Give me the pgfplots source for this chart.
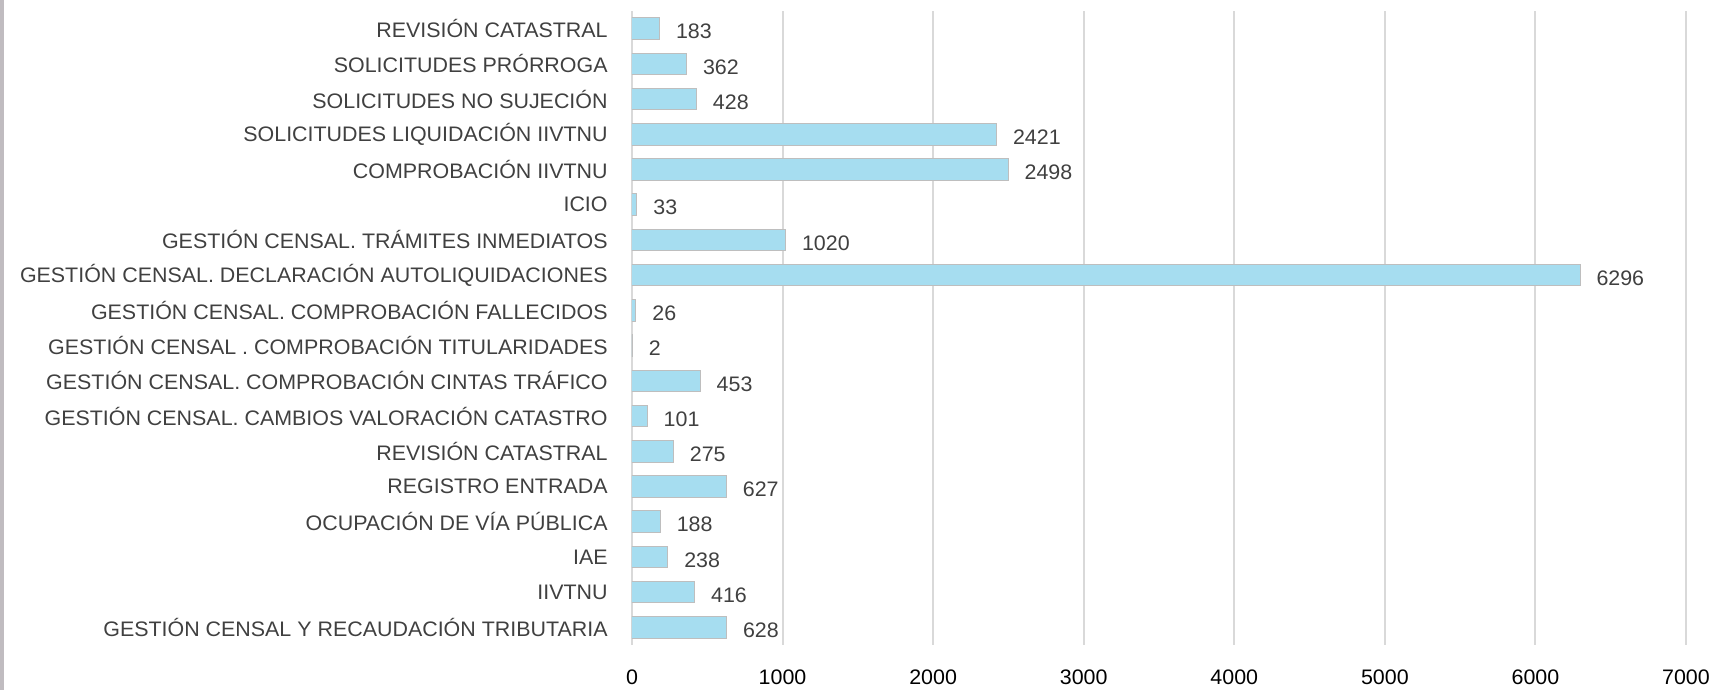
\documentclass[border=0pt]{standalone}
\usepackage{pgfplots}
\pgfplotsset{compat=1.18}
\usepackage{fontspec}
\setmainfont[FakeStretch=1.02]{Liberation Sans}
\definecolor{barfill}{RGB}{166,221,240}
\definecolor{barline}{RGB}{190,190,190}
\definecolor{gridc}{RGB}{217,217,217}
\definecolor{lab}{RGB}{64,64,64}
\definecolor{tick}{RGB}{89,89,89}
\definecolor{edge}{RGB}{192,188,192}
\begin{document}
\begin{tikzpicture}
\fontsize{10.5}{12.6}\selectfont
\begin{axis}[
  at={(316pt,22.5pt)}, anchor=south west,
  width=527pt, height=317pt, scale only axis,
  xbar, bar width=10.8pt,
  xmin=0, xmax=7000, ymin=-0.5, ymax=17.5,
  axis line style={draw=none},
  xtick={0,1000,...,7000},
  xmajorgrids, grid style={gridc, line width=1pt},
  major tick length=0pt,
  ytick={0,...,17},
  yticklabels={
    {GESTIÓN CENSAL Y RECAUDACIÓN TRIBUTARIA},
    {IIVTNU},
    {IAE},
    {OCUPACIÓN DE VÍA PÚBLICA},
    {REGISTRO ENTRADA},
    {REVISIÓN CATASTRAL},
    {GESTIÓN CENSAL. CAMBIOS VALORACIÓN CATASTRO},
    {GESTIÓN CENSAL. COMPROBACIÓN CINTAS TRÁFICO},
    {GESTIÓN CENSAL . COMPROBACIÓN TITULARIDADES},
    {GESTIÓN CENSAL. COMPROBACIÓN FALLECIDOS},
    {GESTIÓN CENSAL. DECLARACIÓN AUTOLIQUIDACIONES},
    {GESTIÓN CENSAL. TRÁMITES INMEDIATOS},
    {ICIO},
    {COMPROBACIÓN IIVTNU},
    {SOLICITUDES LIQUIDACIÓN IIVTNU},
    {SOLICITUDES NO SUJECIÓN},
    {SOLICITUDES PRÓRROGA},
    {REVISIÓN CATASTRAL}},
  yticklabel style={lab, anchor=east, inner sep=0pt, xshift=-12pt, font=\fontsize{10.5}{12.6}\selectfont},
  xticklabel style={tick, anchor=north, inner sep=0pt, yshift=-12pt, font=\fontsize{10.5}{12.6}\selectfont},
  /pgf/number format/assume math mode=true,
  scaled x ticks=false,
  xticklabel={\pgfmathprintnumber[fixed,1000 sep={}]{\tick}},
  nodes near coords,
  nodes near coords style={lab, anchor=west, inner sep=0pt, xshift=8pt, yshift=-1.5pt, font=\fontsize{10.5}{12.6}\selectfont, /pgf/number format/.cd, fixed, 1000 sep={}},
]
\addplot[fill=barfill, draw=barline, line width=0.5pt] coordinates {
  (628,0) (416,1) (238,2) (188,3) (627,4) (275,5) (101,6) (453,7) (2,8)
  (26,9) (6296,10) (1020,11) (33,12) (2498,13) (2421,14) (428,15) (362,16) (183,17)
};
\end{axis}
\fill[edge] (0,0) rectangle (2pt,345pt);
\pgfresetboundingbox
\path[use as bounding box] (0,0) rectangle (857pt,345pt);
\end{tikzpicture}
\end{document}
